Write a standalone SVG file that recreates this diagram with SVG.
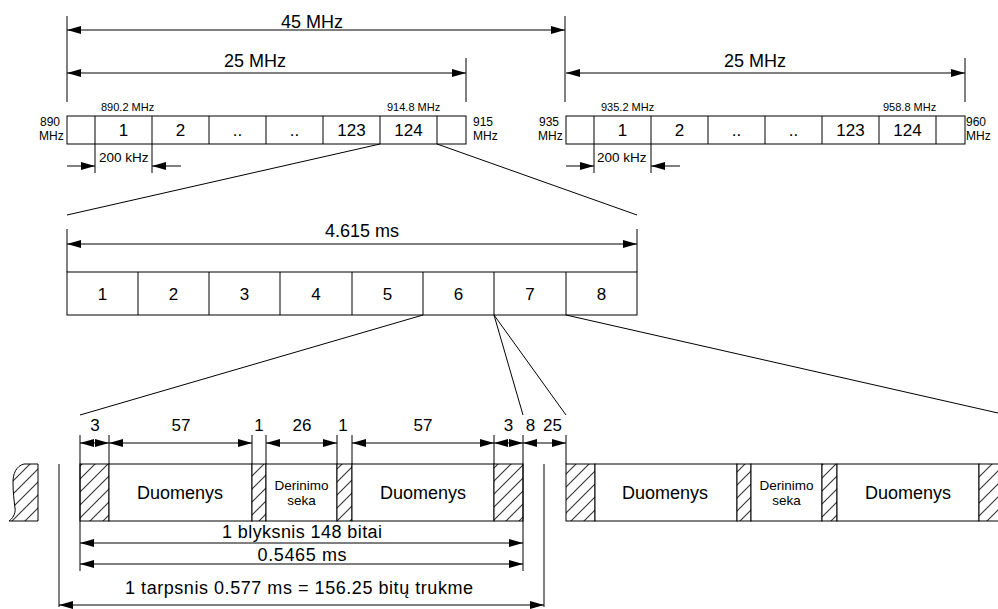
<svg xmlns="http://www.w3.org/2000/svg" width="998" height="609" viewBox="0 0 998 609">
<defs>
<style>
.t{font-family:"Liberation Sans",Arial,sans-serif;fill:#000}
.c{text-anchor:middle}
.ln{stroke:#000;stroke-width:1;fill:none}
.box{stroke:#000;stroke-width:1;fill:#fff}
.hb{stroke:#000;stroke-width:1;fill:url(#hatch)}
.ar{stroke:#000;stroke-width:1;fill:none;marker-end:url(#ah)}
.ar2{stroke:#000;stroke-width:1;fill:none;marker-start:url(#ah);marker-end:url(#ah)}
</style>
<marker id="ah" viewBox="0 0 14 8" refX="14" refY="4" markerWidth="14" markerHeight="8" markerUnits="userSpaceOnUse" orient="auto-start-reverse"><path d="M0,0 L14,4 L0,8 z" fill="#000"/></marker>
<pattern id="hatch" patternUnits="userSpaceOnUse" width="13" height="13"><rect width="13" height="13" fill="#fff"/><path d="M0,13 L13,0 M-6.5,6.5 L6.5,-6.5 M6.5,19.5 L19.5,6.5" stroke="#333" stroke-width="1.1"/></pattern>
</defs>
<rect width="998" height="609" fill="#fff"/>

<g id="dimensions-top">
<path class="ln" d="M67,16 V102 M565,16 V102 M466,58 V102 M965,58 V102"/>
<path class="ar2" d="M67,30 H565"/>
<text class="t c" x="312" y="28" font-size="18">45 MHz</text>
<path class="ar2" d="M67,73 H466"/>
<text class="t c" x="255" y="67" font-size="18">25 MHz</text>
<path class="ar2" d="M566,73 H965"/>
<text class="t c" x="755" y="67" font-size="18">25 MHz</text>
</g>

<g id="uplink-band">
<rect class="box" x="67" y="116" width="399" height="28"/>
<path class="ln" d="M95,116 V144 M152,116 V144 M209,116 V144 M266,116 V144 M323,116 V144 M380,116 V144 M437,116 V144"/>
<text class="t c" x="123.5" y="135.5" font-size="17">1</text>
<text class="t c" x="180.5" y="135.5" font-size="17">2</text>
<text class="t c" x="237.5" y="135.5" font-size="17">..</text>
<text class="t c" x="294.5" y="135.5" font-size="17">..</text>
<text class="t c" x="351.5" y="135.5" font-size="17">123</text>
<text class="t c" x="408.5" y="135.5" font-size="17">124</text>
<text class="t" x="101" y="111" font-size="11">890.2 MHz</text>
<text class="t" x="387" y="111" font-size="11">914.8 MHz</text>
<text class="t" x="40" y="126" font-size="12">890</text>
<text class="t" x="39" y="140" font-size="12">MHz</text>
<text class="t" x="473" y="126" font-size="12">915</text>
<text class="t" x="473" y="140" font-size="12">MHz</text>
<path class="ln" d="M95,144 V173 M152,144 V173"/>
<path class="ar" d="M67,166 H95"/>
<path class="ar" d="M181,166 H152"/>
<text class="t" x="99" y="162" font-size="13.5">200 kHz</text>
</g>

<g id="downlink-band">
<rect class="box" x="566" y="116" width="399" height="28"/>
<path class="ln" d="M594,116 V144 M651,116 V144 M708,116 V144 M765,116 V144 M822,116 V144 M879,116 V144 M936,116 V144"/>
<text class="t c" x="622.5" y="135.5" font-size="17">1</text>
<text class="t c" x="679.5" y="135.5" font-size="17">2</text>
<text class="t c" x="736.5" y="135.5" font-size="17">..</text>
<text class="t c" x="793.5" y="135.5" font-size="17">..</text>
<text class="t c" x="850.5" y="135.5" font-size="17">123</text>
<text class="t c" x="907.5" y="135.5" font-size="17">124</text>
<text class="t" x="601" y="111" font-size="11">935.2 MHz</text>
<text class="t" x="883" y="111" font-size="11">958.8 MHz</text>
<text class="t" x="539" y="126" font-size="12">935</text>
<text class="t" x="538" y="140" font-size="12">MHz</text>
<text class="t" x="966" y="126" font-size="12">960</text>
<text class="t" x="966" y="140" font-size="12">MHz</text>
<path class="ln" d="M594,144 V173 M651,144 V173"/>
<path class="ar" d="M566,166 H594"/>
<path class="ar" d="M680,166 H651"/>
<text class="t" x="597" y="162" font-size="13.5">200 kHz</text>
</g>

<g id="tdma-frame">
<path class="ln" d="M67,229 V272 M637,229 V272"/>
<path class="ar2" d="M67,244 H637"/>
<text class="t c" x="362" y="237" font-size="18">4.615 ms</text>
<rect class="box" x="67" y="272" width="570" height="43"/>
<path class="ln" d="M138,272 V315 M209,272 V315 M280,272 V315 M352,272 V315 M423,272 V315 M494,272 V315 M566,272 V315"/>
<text class="t c" x="102.5" y="299.5" font-size="17">1</text>
<text class="t c" x="173.5" y="299.5" font-size="17">2</text>
<text class="t c" x="244.5" y="299.5" font-size="17">3</text>
<text class="t c" x="316" y="299.5" font-size="17">4</text>
<text class="t c" x="387.5" y="299.5" font-size="17">5</text>
<text class="t c" x="458.5" y="299.5" font-size="17">6</text>
<text class="t c" x="530" y="299.5" font-size="17">7</text>
<text class="t c" x="601.5" y="299.5" font-size="17">8</text>
</g>

<g id="connectors">
<path class="ln" d="M380,144 L67,215 M437,144 L637,215"/>
<path class="ln" d="M423,315 L80,415 M494,315 L523,415 M494,315 L566,415 M566,315 L998,413"/>
</g>

<g id="previous-burst">
<path class="hb" d="M38,464 L24,464 C16,466 13,474 13,482 C13,492 14,500 15,508 C16,514 12,519 9,521 L38,521 Z"/>
</g>

<g id="burst">
<rect class="hb" x="80" y="464" width="29" height="57"/>
<rect class="box" x="109" y="464" width="143" height="57"/>
<rect class="hb" x="252" y="464" width="14" height="57"/>
<rect class="box" x="266" y="464" width="71" height="57"/>
<rect class="hb" x="337" y="464" width="15" height="57"/>
<rect class="box" x="352" y="464" width="142" height="57"/>
<rect class="hb" x="494" y="464" width="29" height="57"/>
<text class="t c" x="180" y="499" font-size="18">Duomenys</text>
<text class="t c" x="301.5" y="490" font-size="13.5">Derinimo</text>
<text class="t c" x="301.5" y="504.5" font-size="13.5">seka</text>
<text class="t c" x="423" y="499" font-size="18">Duomenys</text>
</g>

<g id="next-burst">
<rect class="hb" x="566" y="464" width="29" height="57"/>
<rect class="box" x="595" y="464" width="142" height="57"/>
<rect class="hb" x="737" y="464" width="14" height="57"/>
<rect class="box" x="751" y="464" width="71" height="57"/>
<rect class="hb" x="822" y="464" width="15" height="57"/>
<rect class="box" x="837" y="464" width="142" height="57"/>
<rect class="hb" x="979" y="464" width="40" height="57"/>
<text class="t c" x="665" y="499" font-size="18">Duomenys</text>
<text class="t c" x="786.5" y="490" font-size="13.5">Derinimo</text>
<text class="t c" x="786.5" y="504.5" font-size="13.5">seka</text>
<text class="t c" x="908" y="499" font-size="18">Duomenys</text>
</g>

<g id="dimensions-bottom">
<path class="ln" d="M80,435 V571 M109,435 V464 M252,435 V464 M266,435 V464 M337,435 V464 M352,435 V464 M494,435 V464 M523,435 V571 M566,435 V464 M59,464 V607 M544,464 V607"/>
<path class="ar2" d="M80,443 H109"/>
<path class="ar2" d="M109,443 H252"/>
<path class="ar2" d="M266,443 H337"/>
<path class="ar2" d="M352,443 H494"/>
<path class="ar2" d="M494,443 H523"/>
<path class="ar2" d="M523,443 H566"/>
<text class="t c" x="95" y="431" font-size="17">3</text>
<text class="t c" x="181" y="431" font-size="17">57</text>
<text class="t c" x="259" y="431" font-size="17">1</text>
<text class="t c" x="302" y="431" font-size="17">26</text>
<text class="t c" x="343" y="431" font-size="17">1</text>
<text class="t c" x="423" y="431" font-size="17">57</text>
<text class="t c" x="508.5" y="431" font-size="17">3</text>
<text class="t c" x="530.5" y="431" font-size="17">8</text>
<text class="t c" x="552.5" y="431" font-size="17">25</text>
<path class="ar2" d="M80,543 H523"/>
<text class="t c" x="302" y="538" font-size="18" textLength="160" lengthAdjust="spacing">1 blyksnis 148 bitai</text>
<path class="ar2" d="M80,564 H523"/>
<text class="t c" x="302" y="561" font-size="18" textLength="89" lengthAdjust="spacing">0.5465 ms</text>
<path class="ar2" d="M59,605 H544"/>
<text class="t c" x="299" y="594" font-size="18" textLength="348" lengthAdjust="spacing">1 tarpsnis 0.577 ms = 156.25 bitų trukme</text>
</g>
</svg>
